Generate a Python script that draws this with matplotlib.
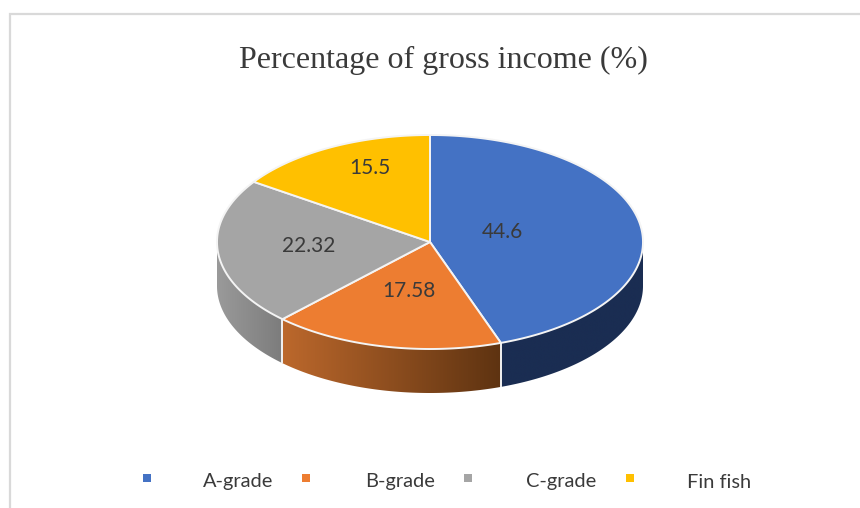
import numpy as np
import matplotlib
matplotlib.use("Agg")
import matplotlib.pyplot as plt
from matplotlib.colors import to_rgb
from matplotlib.patches import Polygon, Rectangle

categories = ["A-grade", "B-grade", "C-grade", "Fin fish"]
values = [44.6, 17.58, 22.32, 15.5]
value_labels = ["44.6", "17.58", "22.32", "15.5"]
title = "Percentage of gross income (%)"

colors = ["#4472C4", "#ED7D31", "#A5A5A5", "#FFC000"]
side_left = ["#1A2D52", "#BC682C", "#9A9A9A", "#000000"]
side_right = ["#1A2D52", "#5E3311", "#7C7C7C", "#000000"]

CX, CY, RX, RY, DEPTH = 430.0, 242.0, 213.0, 107.0, 44.0
TEXT = "#3A3A3A"

fig = plt.figure(figsize=(8.6, 5.08), dpi=100, facecolor="white")
ax = fig.add_axes([0, 0, 1, 1])

# chart frame
ax.add_patch(Rectangle((10, 14), 900, 600, fc="white", ec="#D9D9D9", lw=1.6, zorder=0))


def rim(t):
    return CX + RX * np.sin(t), CY - RY * np.cos(t)


total = sum(values)
edges = np.radians(np.cumsum([0] + values) / total * 360)

# side wall of the near half, one clipped horizontal gradient per slice
for i in range(len(values)):
    a, b = max(edges[i], np.pi / 2), min(edges[i + 1], 3 * np.pi / 2)
    if b <= a:
        continue
    ts = np.linspace(a, b, 200)
    xs, ys = rim(ts)
    outline = list(zip(xs, ys)) + list(zip(xs[::-1], ys[::-1] + DEPTH))
    x_lo, x_hi = xs.min(), xs.max()
    f = np.linspace(0, 1, 256)[None, :, None]
    c_l, c_r = np.array(to_rgb(side_left[i])), np.array(to_rgb(side_right[i]))
    grad = c_l[None, None, :] + (c_r - c_l)[None, None, :] * f
    clip = Polygon(outline, closed=True, fc="none", ec="none", transform=ax.transData)
    ax.add_patch(clip)
    im = ax.imshow(grad, extent=(x_lo, x_hi, ys.max() + DEPTH, ys.min()),
                   aspect="auto", zorder=2, interpolation="bilinear")
    im.set_clip_path(clip)

# seams on the side wall
for e in edges:
    if np.pi / 2 < e < 3 * np.pi / 2:
        x, y = rim(e)
        ax.plot([x, x], [y, y + DEPTH], color="#F2F2F2", lw=1.4, zorder=3, solid_capstyle="butt")

# top faces
for i in range(len(values)):
    ts = np.linspace(edges[i], edges[i + 1], 200)
    xs, ys = rim(ts)
    pts = [(CX, CY)] + list(zip(xs, ys))
    ax.add_patch(Polygon(pts, closed=True, fc=colors[i], ec="#F4F4F4", lw=1.4,
                         joinstyle="round", zorder=4))

# value labels
label_xy = [(502, 232), (409, 291), (309, 246), (370, 168)]
for (x, y), s in zip(label_xy, value_labels):
    ax.text(x, y, s, ha="center", va="center", fontsize=15, family="Lato", color=TEXT, zorder=5)

ax.text(443, 60, title, ha="center", va="center", fontsize=23,
        family="Liberation Serif", color=TEXT)

# legend
marker_x = [147, 306, 468, 630]
text_x = [203, 365, 526, 687]
for mx, tx, c, s in zip(marker_x, text_x, colors, categories):
    ax.add_patch(Rectangle((mx - 4, 474), 8, 8, fc=c, ec="none"))
    ax.text(tx, 482, s, ha="left", va="center", fontsize=14.4, family="Lato", color=TEXT)

ax.set_xlim(0, 860)
ax.set_ylim(508, 0)
ax.axis("off")

fig.savefig("out.png", dpi=100)
